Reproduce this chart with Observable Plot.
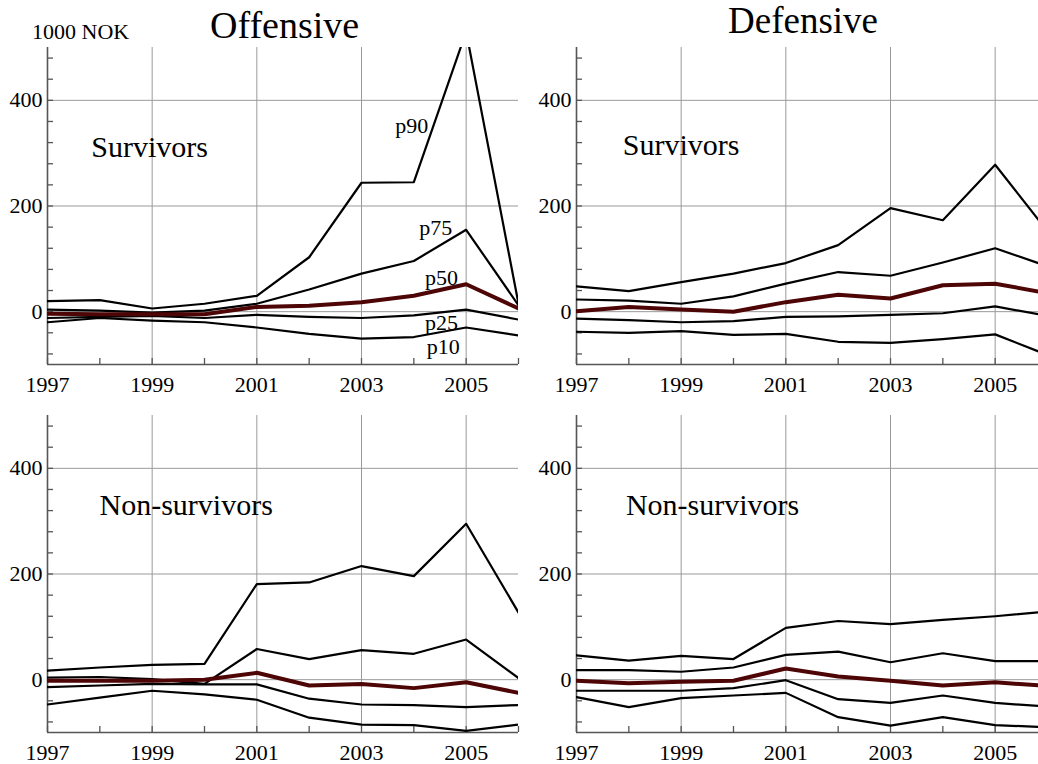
<!DOCTYPE html>
<html><head><meta charset="utf-8">
<script src="https://cdn.jsdelivr.net/npm/d3@7"></script>
<script src="https://cdn.jsdelivr.net/npm/@observablehq/plot@0.6"></script>
<style>
html,body{margin:0;padding:0;background:#fff;overflow:hidden;}
#wrap{position:relative;width:1038px;height:764px;overflow:hidden;font-family:"Liberation Serif","Times New Roman",serif;color:#000;}
.panel{position:absolute;}
.title{position:absolute;line-height:1;white-space:nowrap;}
</style></head><body><div id="wrap"></div>
<script>
// ---- data ----
const years = [1997,1998,1999,2000,2001,2002,2003,2004,2005,2006];
const percentiles = ["p10","p25","p50","p75","p90"];
const labelYears = [1997,1999,2001,2003,2005];
const gridYears = [1999,2001,2003,2005];
const yLabelTicks = [0,200,400];
const yMinorTicks = [-80,-40,0,40,80,120,160,200,240,280,320,360,400,440,480];
const panelTitles = ["Offensive","Defensive"];
const unitLabel = "1000 NOK";
const groupLabels = ["Survivors","Non-survivors"];

// Offensive, survivors
const offSurvP10 = [-20,-12,-17,-20,-30,-42,-51,-48,-30,-45];
const offSurvP25 = [-12,-10,-8,-12,-6,-10,-12,-7,4,-15];
const offSurvP50 = [-4,-5,-5,-5,9,11,18,30,52,6];
const offSurvP75 = [4,2,-2,2,15,42,72,96,155,12];
const offSurvP90 = [20,22,6,15,30,103,244,245,530,15];
// Defensive, survivors
const defSurvP10 = [-38,-40,-37,-44,-42,-57,-59,-52,-43,-82];
const defSurvP25 = [-13,-16,-20,-18,-10,-9,-6,-3,10,-8];
const defSurvP50 = [1,9,4,0,18,32,25,50,53,35];
const defSurvP75 = [23,21,15,29,53,75,68,93,120,86];
const defSurvP90 = [48,39,56,72,92,126,196,173,278,152];
// Offensive, non-survivors
const offNonP10 = [-47,-34,-21,-28,-38,-72,-85,-86,-97,-85];
const offNonP25 = [-14,-11,-8,-9,-9,-36,-47,-48,-52,-48];
const offNonP50 = [-2,-2,-2,0,13,-11,-8,-16,-5,-25];
const offNonP75 = [4,5,1,-8,58,39,56,49,76,3];
const offNonP90 = [17,23,28,30,181,184,215,196,295,127];
// Defensive, non-survivors
const defNonP10 = [-33,-52,-35,-30,-25,-71,-87,-71,-86,-90];
const defNonP25 = [-21,-21,-21,-16,-1,-37,-44,-30,-44,-51];
const defNonP50 = [-2,-7,-4,-2,21,6,-2,-11,-5,-12];
const defNonP75 = [18,18,15,23,47,53,33,50,35,35];
const defNonP90 = [46,36,45,39,98,111,105,113,120,129];

// percentile annotations in the first panel (data coordinates)
const pLabelText = ["p90","p75","p50","p25","p10"];
const pLabelX = [2003.96,2004.42,2004.53,2004.53,2004.56];
const pLabelY = [352,158,63,-21,-66];

// ---- drawing ----
const FONT = '"Liberation Serif","Times New Roman",serif';
const wrap = document.getElementById("wrap");

function makePanel(series, group, groupX, groupY, left, top, height, marginBottom, withP) {
  const data = [];
  percentiles.forEach((p, i) => series[i].forEach((v, j) => data.push({year: years[j], value: v, pct: p})));
  const marks = [
    Plot.gridX(gridYears, {stroke: "#9a9a9a", strokeOpacity: 1, strokeWidth: 1}),
    Plot.gridY(yLabelTicks, {stroke: "#9a9a9a", strokeOpacity: 1, strokeWidth: 1}),
    Plot.axisX(years, {tickSize: -6, tickFormat: () => "", stroke: "#555", strokeWidth: 1.3}),
    Plot.axisX(labelYears, {tickSize: 0, tickPadding: 12, tickFormat: d => String(d), fontSize: 22, fill: "#000"}),
    Plot.axisY(yMinorTicks, {tickSize: -6, tickFormat: () => "", stroke: "#555", strokeWidth: 1.3}),
    Plot.axisY(yLabelTicks, {tickSize: 0, tickPadding: 5, tickFormat: d => String(d), fontSize: 22, fill: "#000"}),
    Plot.ruleX([years[0]], {stroke: "#555", strokeWidth: 1.6}),
    Plot.ruleY([-100], {stroke: "#555", strokeWidth: 1.6}),
    Plot.line(data.filter(d => d.pct !== "p50"), {x: "year", y: "value", z: "pct", stroke: "#000", strokeWidth: 2.2, clip: true}),
    Plot.line(data.filter(d => d.pct === "p50"), {x: "year", y: "value", stroke: "#4d0505", strokeWidth: 4, clip: true}),
    Plot.text([{t: group, x: groupX, y: groupY}], {x: "x", y: "y", text: "t", fontSize: 30, fill: "#000", textAnchor: "middle", lineAnchor: "middle"})
  ];
  if (withP) {
    marks.push(Plot.text(pLabelText.map((t, i) => ({t, x: pLabelX[i], y: pLabelY[i]})),
      {x: "x", y: "y", text: "t", fontSize: 22, fill: "#000", textAnchor: "middle", lineAnchor: "middle"}));
  }
  const svg = Plot.plot({
    width: 520, height,
    marginLeft: 47, marginRight: 2, marginTop: 47, marginBottom,
    x: {domain: [1997, 2006]},
    y: {domain: [-100, 500]},
    style: {fontFamily: FONT, fontSize: "22px", background: "transparent", color: "#000"},
    marks
  });
  svg.classList.add("panel");
  svg.style.left = left + "px";
  svg.style.top = top + "px";
  wrap.appendChild(svg);
}

makePanel([offSurvP10, offSurvP25, offSurvP50, offSurvP75, offSurvP90], groupLabels[0], 1998.95, 310, 0, 0, 400, 36, true);
makePanel([defSurvP10, defSurvP25, defSurvP50, defSurvP75, defSurvP90], groupLabels[0], 1999.0, 314, 529, 0, 400, 36, false);
makePanel([offNonP10, offNonP25, offNonP50, offNonP75, offNonP90], groupLabels[1], 1999.65, 329, 0, 368, 396, 32, false);
makePanel([defNonP10, defNonP25, defNonP50, defNonP75, defNonP90], groupLabels[1], 1999.6, 329, 529, 368, 396, 32, false);

function addText(txt, x, baseline, size) {
  const d = document.createElement("div");
  d.className = "title";
  d.textContent = txt;
  d.style.fontSize = size + "px";
  d.style.left = x + "px";
  d.style.top = (baseline - size * 0.89) + "px";
  wrap.appendChild(d);
}
addText(panelTitles[0], 210, 40, 38);
addText(panelTitles[1], 728, 35, 37);
addText(unitLabel, 32, 41, 22);
</script></body></html>
